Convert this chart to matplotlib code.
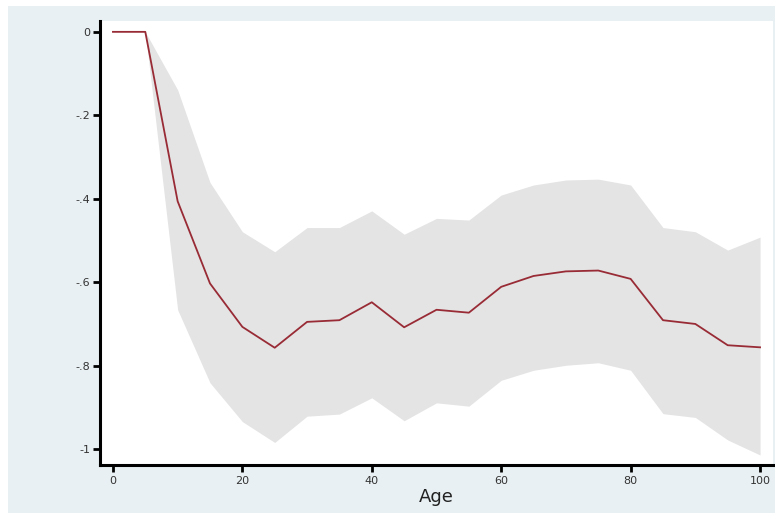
import matplotlib
matplotlib.use("Agg")
import matplotlib.pyplot as plt
from matplotlib.patches import Rectangle

# data
age = [0, 5, 10, 15, 20, 25, 30, 35, 40, 45, 50,
       55, 60, 65, 70, 75, 80, 85, 90, 95, 100]
coef = [0.0, 0.0, -0.406, -0.603, -0.707, -0.757, -0.695, -0.691, -0.648, -0.708, -0.666,
        -0.673, -0.611, -0.585, -0.574, -0.572, -0.592, -0.691, -0.700, -0.751, -0.756]
upper = [0.0, 0.0, -0.139, -0.361, -0.479, -0.527, -0.469, -0.469, -0.429, -0.485, -0.447,
         -0.451, -0.391, -0.367, -0.355, -0.353, -0.367, -0.469, -0.479, -0.523, -0.492]
lower = [0.0, 0.0, -0.666, -0.841, -0.934, -0.984, -0.921, -0.916, -0.877, -0.932, -0.889,
         -0.897, -0.835, -0.811, -0.799, -0.793, -0.811, -0.915, -0.924, -0.978, -1.014]

yticks = [0, -0.2, -0.4, -0.6, -0.8, -1]
ytick_labels = ["0", "-.2", "-.4", "-.6", "-.8", "-1"]
xticks = [0, 20, 40, 60, 80, 100]

W, H = 775, 514
fig = plt.figure(figsize=(W / 100, H / 100), dpi=100, facecolor="white")

# light outer background like Stata's s2color scheme
bg = Rectangle((8 / W, 1 / H), 1 - 8 / W, (508 - 1) / H,
               transform=fig.transFigure, facecolor="#e9f0f3",
               edgecolor="none", zorder=-10)
fig.patches.append(bg)

ax = fig.add_axes([100 / W, (H - 465) / H, (773 - 100) / W, (465 - 21) / H])
ax.set_zorder(1)
ax.set_facecolor("white")

ax.fill_between(age, lower, upper, color="#e4e4e4", linewidth=0, zorder=1)
ax.plot(age, coef, color="#982b35", linewidth=1.3, zorder=2)

ax.set_xlim(-2.0, 102.0)
ax.set_ylim(-1.038, 0.026)

ax.set_yticks(yticks)
ax.set_yticklabels(ytick_labels)
ax.set_xticks(xticks)

for s in ["top", "right"]:
    ax.spines[s].set_visible(False)
for s in ["left", "bottom"]:
    ax.spines[s].set_linewidth(2.2)
    ax.spines[s].set_color("black")

ax.tick_params(axis="both", direction="out", length=5, width=2, color="black",
               labelsize=8, labelcolor="#333333")
ax.tick_params(axis="y", pad=2)
ax.tick_params(axis="x", pad=3)

ax.set_xlabel("Age", fontsize=13, color="#222222", labelpad=1)

fig.savefig("out.png", dpi=100, facecolor="white")
